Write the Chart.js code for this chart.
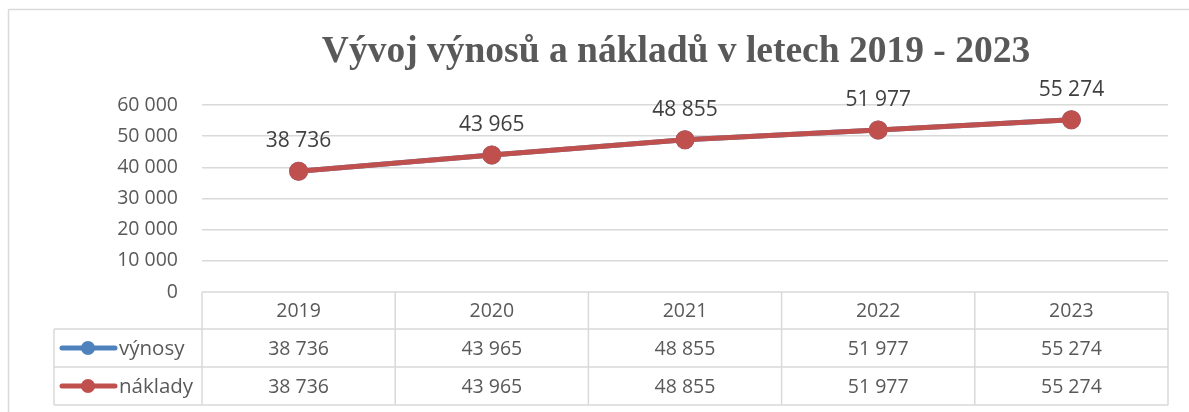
<!DOCTYPE html>
<html><head><meta charset="utf-8">
<script src="https://cdn.jsdelivr.net/npm/chart.js@4/dist/chart.umd.min.js"></script>
<style>html,body{margin:0;padding:0;background:#fff;}#wrap{width:1189px;height:412px;position:relative;}</style>
</head><body><div id="wrap"><canvas id="c" width="1189" height="412"></canvas></div>
<script>
const categories = ['2019','2020','2021','2022','2023'];
const vynosy = [38736, 43965, 48855, 51977, 55274];
const naklady = [38736, 43965, 48855, 51977, 55274];
const seriesNames = ['výnosy','náklady'];
const titleText = 'Vývoj výnosů a nákladů v letech 2019 - 2023';
const yTicks = [0,10000,20000,30000,40000,50000,60000];

const fmt = v => String(v).replace(/\B(?=(\d{3})+(?!\d))/g, '\u00a0');
const LABEL_FONT = '"Open Sans", "Liberation Sans", sans-serif';
const GRID = '#d9d9d9';
const BLUE = '#4F81BD', RED = '#C0504D';

const decor = {
  id:'decor',
  beforeDraw(chart){
    const ctx = chart.ctx;
    ctx.save();
    ctx.fillStyle='#fff'; ctx.fillRect(0,0,chart.width,chart.height);
    ctx.strokeStyle=GRID; ctx.lineWidth=1.5;
    ctx.beginPath(); ctx.moveTo(8.5,9.5); ctx.lineTo(chart.width,9.5);
    ctx.moveTo(8.5,9.5); ctx.lineTo(8.5,chart.height); ctx.stroke();
    ctx.fillStyle='#595959';
    ctx.font='bold 37.5px "Liberation Serif", "Times New Roman", serif';
    ctx.textAlign='center'; ctx.textBaseline='alphabetic';
    ctx.fillText(titleText, 676, 62);
    ctx.restore();
  },
  afterDraw(chart){
    const ctx = chart.ctx, ca = chart.chartArea, xs = chart.scales.x;
    const L = ca.left, R = ca.right, T = ca.bottom;
    const n = categories.length, w = (R-L)/n;
    const rowH = [37, 38, 38];
    const y1 = T + rowH[0], y2 = y1 + rowH[1], y3 = y2 + rowH[2];
    const legL = 54;
    ctx.save();
    ctx.strokeStyle=GRID; ctx.lineWidth=1.5;
    ctx.beginPath();
    ctx.moveTo(L,T); ctx.lineTo(R,T);
    ctx.moveTo(legL,y1); ctx.lineTo(R,y1);
    ctx.moveTo(legL,y2); ctx.lineTo(R,y2);
    ctx.moveTo(legL,y3); ctx.lineTo(R,y3);
    ctx.moveTo(legL,y1); ctx.lineTo(legL,y3);
    for(let i=0;i<=n;i++){ const x=L+i*w; ctx.moveTo(x,T); ctx.lineTo(x,y3); }
    ctx.stroke();
    ctx.fillStyle='#595959';
    ctx.font='19.5px '+LABEL_FONT;
    ctx.textAlign='center'; ctx.textBaseline='middle';
    const rows=[vynosy,naklady];
    categories.forEach((c,i)=>{
      const cx = xs.getPixelForValue(i);
      ctx.fillText(c, cx, (T+y1)/2+1);
      ctx.fillText(fmt(rows[0][i]), cx, (y1+y2)/2+1);
      ctx.fillText(fmt(rows[1][i]), cx, (y2+y3)/2+1);
    });
    // legend keys
    const cols=[BLUE,RED], ys=[(y1+y2)/2,(y2+y3)/2];
    for(let r=0;r<2;r++){
      ctx.strokeStyle=cols[r]; ctx.lineWidth=5; ctx.lineCap='round';
      ctx.beginPath(); ctx.moveTo(62,ys[r]); ctx.lineTo(115,ys[r]); ctx.stroke();
      ctx.fillStyle=cols[r]; ctx.beginPath(); ctx.arc(88,ys[r],7,0,Math.PI*2); ctx.fill();
      ctx.fillStyle='#595959'; ctx.textAlign='left';
      ctx.font='20.5px '+LABEL_FONT;
      ctx.fillText(seriesNames[r], 119, ys[r]+1);
    }
    // data labels
    ctx.fillStyle='#404040'; ctx.textAlign='center'; ctx.textBaseline='alphabetic';
    ctx.font='21px '+LABEL_FONT;
    const meta = chart.getDatasetMeta(1);
    meta.data.forEach((p,i)=>{ ctx.fillText(fmt(naklady[i]), p.x, p.y-24); });
    ctx.restore();
  }
};

new Chart(document.getElementById('c'), {
  type:'line',
  data:{
    labels:categories,
    datasets:[
      {label:seriesNames[0], data:vynosy, order:1, borderColor:BLUE, backgroundColor:BLUE, borderWidth:5, pointRadius:7, pointHoverRadius:7},
      {label:seriesNames[1], data:naklady, order:0, borderColor:RED, backgroundColor:RED, borderWidth:5, pointRadius:7, pointHoverRadius:7}
    ]
  },
  options:{
    responsive:false, animation:false,
    layout:{padding:{left:0,right:21,top:105,bottom:120}},
    plugins:{legend:{display:false},title:{display:false},tooltip:{enabled:false}},
    scales:{
      x:{type:'category', offset:true, display:false, grid:{display:false}},
      y:{min:0,max:60000,
        afterFit(s){ s.width=202; },
        afterBuildTicks(s){ s.ticks = yTicks.map(v=>({value:v})); },
        border:{display:false},
        grid:{color:c=>c.tick && c.tick.value===0 ? 'rgba(0,0,0,0)' : GRID, lineWidth:1.5, drawTicks:false},
        ticks:{padding:24, color:'#595959', font:{family:LABEL_FONT,size:19.5}, callback:v=>fmt(v)}
      }
    }
  },
  plugins:[decor]
});
</script></body></html>
